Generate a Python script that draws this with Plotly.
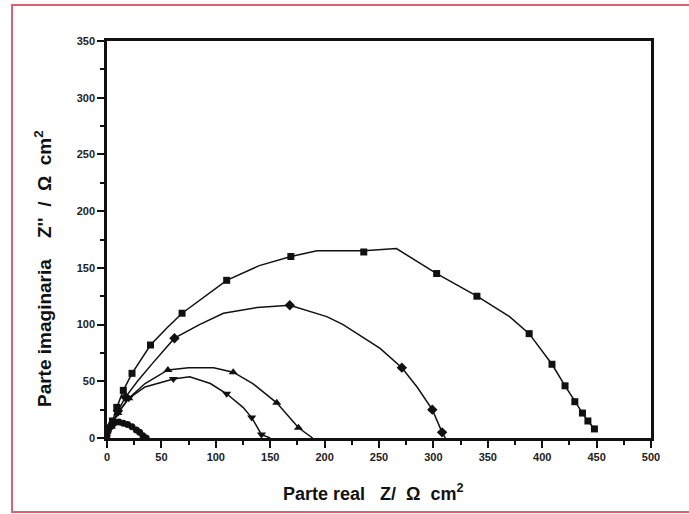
import plotly.graph_objects as go

# Nyquist curves (line vertices) and marker positions for each series
s1_x = [2, 5, 9, 15, 23, 40, 55, 69, 90, 110, 140, 169, 193, 236, 266, 303, 340, 370, 388, 409, 421, 430, 437, 442, 448]
s1_y = [5, 15, 27, 42, 57, 82, 97, 110, 125, 139, 152, 160, 165, 165, 167, 145, 125, 107, 92, 65, 46, 32, 22, 15, 8]
s1_mx = [5, 9, 15, 23, 40, 69, 110, 169, 236, 303, 340, 388, 409, 421, 430, 437, 442, 448]
s1_my = [15, 27, 42, 57, 82, 110, 139, 160, 164, 145, 125, 92, 65, 46, 32, 22, 15, 8]

s2_x = [2, 5, 10, 17, 28, 42, 62, 85, 107, 138, 168, 202, 217, 251, 271, 285, 299, 308, 311]
s2_y = [4, 12, 24, 36, 50, 66, 88, 100, 110, 115, 117, 107, 100, 79, 62, 45, 25, 5, 0]
s2_mx = [5, 10, 17, 62, 168, 271, 299, 308]
s2_my = [12, 24, 36, 88, 117, 62, 25, 5]

s3_x = [1, 4, 10, 20, 35, 56, 75, 98, 116, 134, 156, 168, 176, 189]
s3_y = [3, 10, 22, 35, 48, 60, 62, 62, 58, 48, 31, 18, 9, 0]
s3_mx = [4, 10, 20, 56, 116, 156, 176]
s3_my = [10, 22, 35, 60, 58, 31, 9]

s4_x = [1, 4, 10, 20, 35, 61, 76, 95, 110, 125, 133, 142, 150]
s4_y = [3, 10, 22, 35, 45, 52, 54, 48, 39, 27, 18, 3, 0]
s4_mx = [4, 10, 20, 61, 110, 133, 142]
s4_my = [10, 22, 35, 52, 39, 18, 3]

s5_x = [0, 1, 2, 4, 7, 11, 15, 19, 23, 27, 30, 33, 36]
s5_y = [2, 6, 9, 12, 14, 14, 13, 12, 10, 7, 5, 2, 0]

x_ticks = [0, 50, 100, 150, 200, 250, 300, 350, 400, 450, 500]
y_ticks = [0, 50, 100, 150, 200, 250, 300, 350]

x_title = "Parte real\u00a0\u00a0 Z/\u00a0 Ω\u00a0 cm<sup>2</sup>"
y_title = "Parte imaginaria\u00a0\u00a0\u00a0 Z''\u00a0 /\u00a0 Ω\u00a0 cm<sup>2</sup>"

INK = "#111111"
fig = go.Figure()

series = [
    (s1_x, s1_y, s1_mx, s1_my, "square", 7),
    (s2_x, s2_y, s2_mx, s2_my, "diamond", 8),
    (s3_x, s3_y, s3_mx, s3_my, "triangle-up", 8),
    (s4_x, s4_y, s4_mx, s4_my, "triangle-down", 8),
    (s5_x, s5_y, s5_x, s5_y, "circle", 7),
]
for lx, ly, mx, my, sym, sz in series:
    fig.add_trace(go.Scatter(x=lx, y=ly, mode="lines",
                             line=dict(color=INK, width=1.5),
                             showlegend=False, hoverinfo="skip"))
    fig.add_trace(go.Scatter(x=mx, y=my, mode="markers",
                             marker=dict(symbol=sym, size=sz, color=INK),
                             showlegend=False))

axis_common = dict(
    showgrid=False, zeroline=False, showline=True, linecolor=INK, linewidth=2.5,
    mirror=True, ticks="outside", ticklen=7, tickwidth=1.5, tickcolor=INK,
    tickfont=dict(family="Arial", size=11, color="#222222", weight="bold"),
    minor=dict(ticks="outside", ticklen=4, tickwidth=1.5, tickcolor=INK, dtick=25, tick0=0),
)
fig.update_xaxes(range=[0, 500], tickvals=x_ticks, **axis_common)
fig.update_yaxes(range=[0, 350], tickvals=y_ticks, **axis_common)

# axis titles placed as in the reference
fig.add_annotation(text=x_title, xref="paper", yref="paper", x=0.4908, y=-0.1385,
                   xanchor="center", yanchor="middle", showarrow=False,
                   font=dict(family="Arial", size=18, color=INK, weight="bold"))
fig.add_annotation(text=y_title, xref="paper", yref="paper", x=-0.1176, y=0.4257,
                   xanchor="center", yanchor="middle", textangle=-90, showarrow=False,
                   font=dict(family="Arial", size=19, color=INK, weight="bold"))

# outer red frame of the figure
fig.add_shape(type="rect", xref="paper", yref="paper",
              x0=-0.1746, x1=1.2, y0=-0.1864, y1=1.0907,
              line=dict(color="#d9646f", width=2), fillcolor="rgba(0,0,0,0)", layer="below")

fig.update_layout(
    width=689, height=514,
    margin=dict(l=107, r=38, t=41, b=76),
    plot_bgcolor="white", paper_bgcolor="white",
    font=dict(family="Arial", color=INK),
)

fig.write_html("out.html", post_script="document.body.style.margin='0';",
               config={"displayModeBar": False})
